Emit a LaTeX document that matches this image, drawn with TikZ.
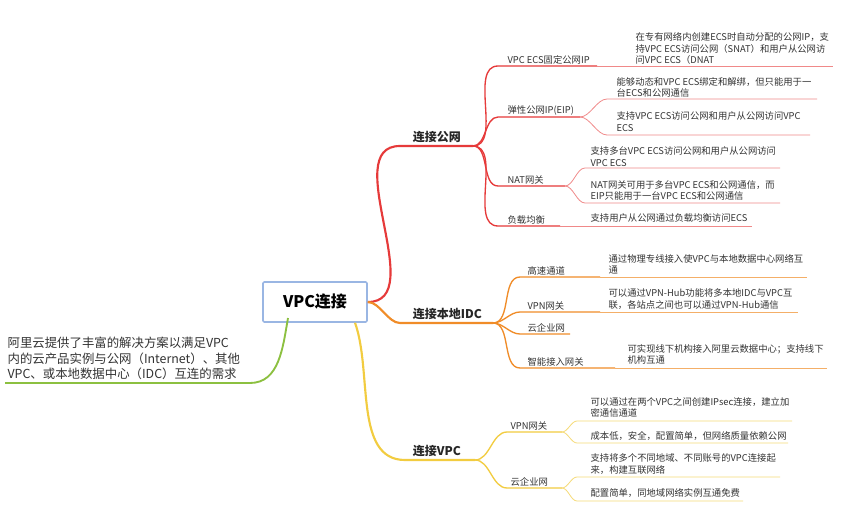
\documentclass[tikz,border=0pt]{standalone}
\usepackage{fontspec}
\setmainfont{Noto Sans CJK SC}
\definecolor{rr}{RGB}{230,58,58}
\definecolor{oo}{RGB}{240,140,40}
\definecolor{yy}{RGB}{242,204,64}
\definecolor{gg}{RGB}{140,192,64}
\begin{document}
\begin{tikzpicture}[x=0.75pt,y=-0.75pt,
  t/.style={anchor=south west,inner sep=1pt,font=\fontsize{7}{8.6}\selectfont,text=black!80,align=left},
  b/.style={anchor=south west,inner sep=2pt,font=\fontsize{9}{10}\selectfont\bfseries,text=black!85},
  cr/.style={draw=rr,line width=1pt},
  co/.style={draw=oo,line width=1pt},
  cy/.style={draw=yy,line width=1pt},
  cg/.style={draw=gg,line width=1pt},
  lr/.style={draw=rr!60!white,line width=0.6pt},
  lo/.style={draw=oo!70!white,line width=0.6pt},
  ly/.style={draw=yy!70!white,line width=0.6pt},
  cu/.style={out=0,in=180,looseness=0.8}]
\useasboundingbox (0,0) rectangle (864,514);
\fill[white] (0,0) rectangle (864,514);
% centre
\node[draw=cyan!50!blue!40,line width=1.2pt,fill=white,rounded corners=1pt,minimum width=78pt,minimum height=30pt,font=\fontsize{12}{14}\selectfont\bfseries] (c) at (315,302) {VPC连接};
% left
\coordinate (g0) at (5,383);\coordinate (g1) at (250,383);
\node[t,font=\fontsize{9.3}{11.4}\selectfont] (lt) at (6,381) {阿里云提供了丰富的解决方案以满足VPC\\内的云产品实例与公网（Internet）、其他\\VPC、或本地数据中心（IDC）互连的需求};
\draw[cg,line width=1.4pt] (g0) -- (g1) to[out=0,in=-100] (288,318);
% branch 1
\coordinate (h1) at (473,146);
\draw[cr,line width=1.6pt] (c.east) to[out=0,in=180,looseness=1] (400,146) -- (h1);
\node[b] (b1) at (410,146) {连接公网};
\foreach \y/\e in {66/597,117/580,186/565,226/560}{\draw[cr] (h1) to[out=0,in=180,looseness=0.9] (498,\y) -- (\e,\y);}
\node[t] (s1) at (506,66) {VPC ECS固定公网IP};
\node[t] (s2) at (506,117) {弹性公网IP(EIP)};
\node[t] (s3) at (506,186) {NAT网关};
\node[t] (s4) at (506,226) {负载均衡};
\draw[lr] (597,66) -- (833,66);
\node[t] (l1) at (634,66) {在专有网络内创建ECS时自动分配的公网IP，支\\持VPC ECS访问公网（SNAT）和用户从公网访\\问VPC ECS（DNAT};
\draw[lr] (580,117) to[cu] (607,99) -- (817,99);
\draw[lr] (580,117) to[cu] (607,135) -- (810,135);
\node[t] (l2) at (615,99) {能够动态和VPC ECS绑定和解绑，但只能用于一\\台ECS和公网通信};
\node[t] (l3) at (615,133) {支持VPC ECS访问公网和用户从公网访问VPC\\ECS};
\draw[lr] (565,186) to[cu] (585,168) -- (780,168);
\draw[lr] (565,186) to[cu] (585,203) -- (780,203);
\node[t] (l4) at (589,168) {支持多台VPC ECS访问公网和用户从公网访问\\VPC ECS};
\node[t] (l5) at (589,202) {NAT网关可用于多台VPC ECS和公网通信，而\\EIP只能用于一台VPC ECS和公网通信};
\draw[lr] (560,226) -- (752,226);
\node[t] (l6) at (589,224) {支持用户从公网通过负载均衡访问ECS};
% branch 2
\coordinate (h2) at (493,323);
\draw[co,line width=1.6pt] (c.east) to[out=0,in=180,looseness=0.8] (400,323) -- (h2);
\node[b] (b2) at (410,323) {连接本地IDC};
\foreach \y/\e in {277/600,312/600,334/570,368/615}{\draw[co] (h2) to[out=0,in=180,looseness=0.9] (520,\y) -- (\e,\y);}
\node[t] (s5) at (526,277) {高速通道};
\node[t] (s6) at (526,312) {VPN网关};
\node[t] (s7) at (526,334) {云企业网};
\node[t] (s8) at (526,368) {智能接入网关};
\draw[lo] (600,277) -- (807,277);
\draw[lo] (600,312) -- (798,312);
\draw[lo] (615,368) -- (827,368);
\node[t] (l7) at (607,276) {通过物理专线接入使VPC与本地数据中心网络互\\通};
\node[t] (l8) at (607,311) {可以通过VPN-Hub功能将多本地IDC与VPC互\\联，各站点之间也可以通过VPN-Hub通信};
\node[t] (l9) at (626,366) {可实现线下机构接入阿里云数据中心；支持线下\\机构互通};
% branch 3
\coordinate (h3) at (475,460);
\draw[cy,line width=1.6pt] ([xshift=30pt]c.south) to[out=-70,in=180,looseness=0.9] (405,460) -- (h3);
\node[b] (b3) at (410,460) {连接VPC};
\foreach \y in {432,488}{\draw[cy] (h3) to[out=0,in=180,looseness=0.9] (507,\y) -- (562,\y);}
\node[t] (s9) at (509,432) {VPN网关};
\node[t] (s10) at (509,488) {云企业网};
\draw[ly] (562,432) to[cu] (577,421) -- (792,421);
\draw[ly] (562,432) to[cu] (577,443) -- (788,443);
\draw[ly] (562,488) to[cu] (577,477) -- (780,477);
\draw[ly] (562,488) to[cu] (577,501) -- (743,501);
\node[t] (l10) at (589,419) {可以通过在两个VPC之间创建IPsec连接，建立加\\密通信通道};
\node[t] (l11) at (589,442) {成本低，安全，配置简单，但网络质量依赖公网};
\node[t] (l12) at (589,476) {支持将多个不同地域、不同账号的VPC连接起\\来，构建互联网络};
\node[t] (l13) at (589,499) {配置简单，同地域网络实例互通免费};
\end{tikzpicture}
\end{document}
